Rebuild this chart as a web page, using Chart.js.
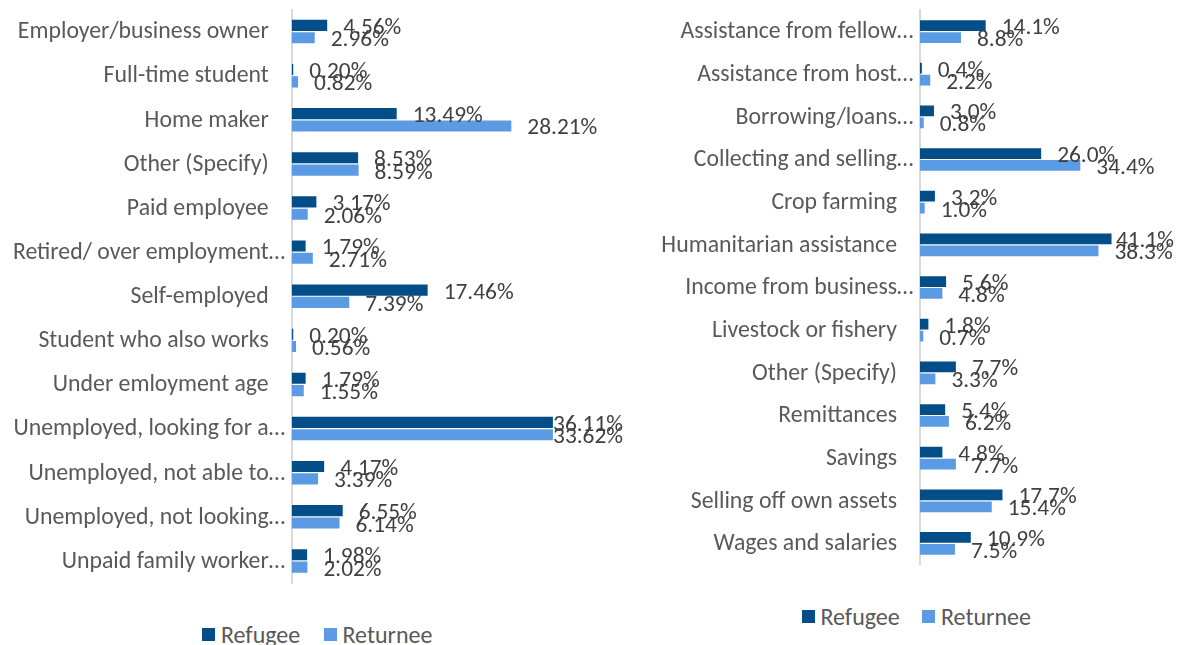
<!DOCTYPE html>
<html>
<head>
<meta charset="utf-8">
<script src="https://cdn.jsdelivr.net/npm/chart.js@4.4.1/dist/chart.umd.min.js"></script>
<style>
html,body{margin:0;padding:0;background:#fff;width:1180px;height:645px;overflow:hidden;position:relative;}
canvas{position:absolute;top:0;}
#c1{left:0;}
#c2{left:620px;}
.lg{position:absolute;height:24px;display:flex;align-items:center;color:#595959;white-space:nowrap;}
.sq{position:absolute;width:13px;height:13px;}
</style>
</head>
<body>
<canvas id="c1" width="640" height="600"></canvas>
<canvas id="c2" width="560" height="600"></canvas>
<div id="legends"></div>
<script>
// ---------- DATA ----------
const seriesNames = ["Refugee", "Returnee"];

const occupationCategories = [
  "Employer/business owner",
  "Full-time student",
  "Home maker",
  "Other (Specify)",
  "Paid employee",
  "Retired/ over employment…",
  "Self-employed",
  "Student who also works",
  "Under emloyment age",
  "Unemployed, looking for a…",
  "Unemployed, not able to…",
  "Unemployed, not looking…",
  "Unpaid family worker…"
];
const occupationRefugee  = [4.56, 0.20, 13.49, 8.53, 3.17, 1.79, 17.46, 0.20, 1.79, 36.11, 4.17, 6.55, 1.98];
const occupationReturnee = [2.96, 0.82, 28.21, 8.59, 2.06, 2.71, 7.39, 0.56, 1.55, 33.62, 3.39, 6.14, 2.02];

const incomeCategories = [
  "Assistance from fellow…",
  "Assistance from host…",
  "Borrowing/loans…",
  "Collecting and selling…",
  "Crop farming",
  "Humanitarian assistance",
  "Income from business…",
  "Livestock or fishery",
  "Other (Specify)",
  "Remittances",
  "Savings",
  "Selling off own assets",
  "Wages and salaries"
];
const incomeRefugee  = [14.1, 0.4, 3.0, 26.0, 3.2, 41.1, 5.6, 1.8, 7.7, 5.4, 4.8, 17.7, 10.9];
const incomeReturnee = [8.8, 2.2, 0.8, 34.4, 1.0, 38.3, 4.8, 0.7, 3.3, 6.2, 7.7, 15.4, 7.5];

// ---------- STYLE ----------
const FONT = "Carlito, Lato, 'Liberation Sans', sans-serif";
const COLORS = ["#034e88", "#5a9be3"];
const CAT_COLOR = "#595959";
const VAL_COLOR = "#404040";

function fitSize(text, target) {
  const c = document.createElement('canvas').getContext('2d');
  c.font = "100px " + FONT;
  return 100 * target / c.measureText(text).width;
}

function build() {
  const catSize = fitSize("Employer/business owner", 251);
  const valSize = fitSize("28.21%", 70);

  function makeChart(id, cats, ref, ret, o) {
    const labelPlugin = {
      id: 'lbls' + id,
      afterDatasetsDraw(chart) {
        const ctx = chart.ctx;
        const area = chart.chartArea;
        ctx.save();
        // data labels
        ctx.font = valSize + "px " + FONT;
        ctx.fillStyle = VAL_COLOR;
        ctx.textBaseline = 'alphabetic';
        ctx.textAlign = 'left';
        chart.data.datasets.forEach((ds, di) => {
          const meta = chart.getDatasetMeta(di);
          meta.data.forEach((bar, i) => {
            const txt = ds.data[i].toFixed(o.dec) + "%";
            const w = ctx.measureText(txt).width;
            const end = Math.min(bar.x, area.right);
            let x = end + 16;
            if (x + w > o.limitRight) x = Math.max(end, o.limitRight - w);
            ctx.fillText(txt, x, bar.y + 8.5);
          });
        });
        // category labels
        const ys = chart.scales.y;
        ctx.font = catSize + "px " + FONT;
        ctx.fillStyle = CAT_COLOR;
        const rx = area.left - 23;
        cats.forEach((lab, i) => {
          const y = ys.getPixelForValue(i) + 6.8;
          const ell = lab.endsWith("…");
          const stem = ell ? lab.slice(0, -1) : lab;
          ctx.textAlign = 'right';
          ctx.fillText(stem, rx, y);
          if (ell) {
            ctx.textAlign = 'left';
            ctx.fillText("…", rx, y);
          }
        });
        ctx.restore();
      }
    };
    return new Chart(document.getElementById(id), {
      type: 'bar',
      data: {
        labels: cats,
        datasets: [
          { label: seriesNames[0], data: ref, backgroundColor: COLORS[0], clip: 0,
            categoryPercentage: 0.56, barPercentage: 0.9 },
          { label: seriesNames[1], data: ret, backgroundColor: COLORS[1], clip: 0,
            categoryPercentage: 0.56, barPercentage: 0.9 }
        ]
      },
      options: {
        indexAxis: 'y',
        responsive: false,
        animation: false,
        layout: { padding: { left: 0, right: o.padRight, top: o.padTop, bottom: o.padBottom } },
        plugins: { legend: { display: false }, tooltip: { enabled: false } },
        scales: {
          x: { display: false, min: 0, max: o.max },
          y: {
            grid: { display: false, drawTicks: false },
            border: { display: true, color: '#d9d9d9', width: 2 },
            ticks: { display: false },
            afterFit(s) { s.width = o.yWidth; }
          }
        }
      },
      plugins: [labelPlugin]
    });
  }

  makeChart('c1', occupationCategories, occupationRefugee, occupationReturnee,
    { yWidth: 291.7, max: 33.55, padRight: 87.1, padTop: 9.5, padBottom: 17, dec: 2, limitRight: 623 });
  makeChart('c2', incomeCategories, incomeRefugee, incomeReturnee,
    { yWidth: 300, max: 50, padRight: 27, padTop: 10.2, padBottom: 35.2, dec: 1, limitRight: 554 });

  // legends
  const lgSize = fitSize("Returnee", 90);
  const legendSpec = [
    { cy: 634.5, items: [[202, 221], [323.5, 342.5]] },
    { cy: 616.5, items: [[801.5, 820.5], [922, 941]] }
  ];
  const holder = document.getElementById('legends');
  legendSpec.forEach(spec => {
    spec.items.forEach((it, k) => {
      const sq = document.createElement('div');
      sq.className = 'sq';
      sq.style.left = it[0] + 'px';
      sq.style.top = (spec.cy - 6.5) + 'px';
      sq.style.background = COLORS[k];
      holder.appendChild(sq);
      const t = document.createElement('div');
      t.className = 'lg';
      t.style.left = it[1] + 'px';
      t.style.top = (spec.cy - 12) + 'px';
      t.style.fontFamily = FONT;
      t.style.fontSize = lgSize + 'px';
      t.textContent = seriesNames[k];
      holder.appendChild(t);
    });
  });
}

if (document.fonts && document.fonts.load) {
  Promise.all([document.fonts.load("20px Lato"), document.fonts.load("20px Carlito")])
    .then(build, build);
} else {
  build();
}
</script>
</body>
</html>
